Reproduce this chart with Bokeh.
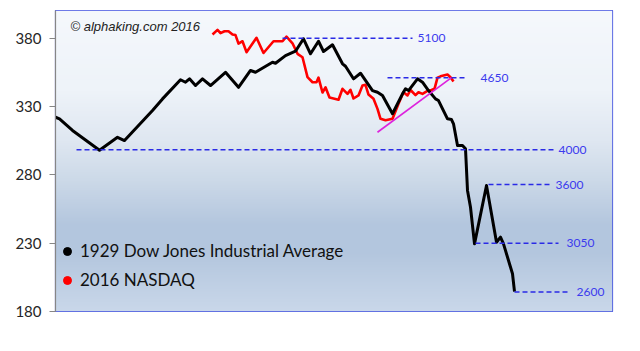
import numpy as np
from bokeh.plotting import figure
from bokeh.models import Range1d, FixedTicker, Label, Legend, LegendItem
from bokeh.core.properties import value
from bokeh.embed import file_html
from bokeh.resources import INLINE

# ---------------- data ----------------
dow_day = [0, 4, 17, 44, 62, 69, 97, 107, 125, 130,
           134, 140, 147, 155, 170, 183, 195, 200, 217, 220,
           230, 240, 248, 255, 263, 268, 277, 287, 290, 298,
           305, 317, 322, 327, 337, 347, 350, 353, 362, 367,
           373, 380, 383, 392, 396, 398, 402, 407, 410, 412,
           415, 419, 431, 441, 445, 448, 457, 459]
dow_val = [322.2, 321.0, 312.5, 298.0, 307.5, 305.1, 327.1, 335.6, 349.6, 347.8,
           350.3, 345.4, 350.3, 345.4, 355.1, 344.1, 356.4, 355.1, 362.4, 361.7,
           367.3, 370.5, 379.6, 368.6, 377.8, 370.3, 375.2, 361.3, 359.5, 350.3,
           354.4, 341.7, 340.5, 338.1, 324.7, 339.3, 343.0, 341.7, 350.3, 347.8,
           341.7, 335.6, 334.4, 321.0, 320.5, 317.4, 301.5, 301.5, 299.1, 268.6,
           256.3, 229.5, 272.2, 230.7, 234.4, 229.5, 207.6, 194.6]

nas_day = [157, 162, 165, 169, 173, 177, 180, 183, 187, 191,
           201, 208, 218, 227, 231, 237, 242, 247, 252, 257,
           261, 263, 267, 270, 274, 283, 287, 292, 295, 298,
           303, 307, 310, 313, 318, 322, 325, 330, 337, 343,
           348, 352, 355, 360, 363, 367, 372, 376, 379, 382,
           385, 392, 395, 398]
nas_val = [382.7, 386.1, 383.7, 385.1, 385.1, 382.7, 382.3, 376.1, 377.8, 369.8,
           380.3, 369.2, 377.8, 377.8, 381.1, 376.3, 368.6, 366.1, 351.5, 347.8,
           347.8, 351.2, 340.3, 344.1, 336.6, 335.0, 343.0, 339.3, 342.2, 335.9,
           338.1, 345.4, 345.9, 338.8, 335.7, 328.3, 321.0, 320.0, 321.0, 332.0,
           340.5, 338.1, 342.1, 338.4, 340.5, 339.3, 341.4, 342.1, 343.0, 351.2,
           352.1, 353.4, 351.5, 348.3]

level_names = ["5100", "4650", "4000", "3600", "3050", "2600"]
level_val = [380.0, 351.0, 298.3, 272.9, 230.0, 194.3]
level_start = [227, 332, 21, 433, 420, 459]
level_end = [357, 409, 498, 495, 503, 512]
level_label_x = [362, 425, 503, 500, 511, 521]

trend_day = [322, 396]
trend_val = [311.2, 351.2]

y_ticks = [180, 230, 280, 330, 380]

series_names = ["1929 Dow Jones Industrial Average", "2016 NASDAQ"]

# ---------------- figure ----------------
X0, X1 = 0, 557
Y0, Y1 = 180, 400.3

p = figure(width=640, height=351, x_range=Range1d(X0, X1), y_range=Range1d(Y0, Y1),
           output_backend="svg", toolbar_location=None, x_axis_location=None,
           min_border_left=55, min_border_right=28, min_border_top=10, min_border_bottom=40)
p.xgrid.visible = False
p.ygrid.visible = False
p.background_fill_color = "white"
p.border_fill_color = "white"
p.outline_line_color = "#3f4fe0"
p.outline_line_width = 1.2

# gradient background
H = 301
stops_px = [0, 80, 130, 170, 215, 240, 301]
cols = np.array([(245, 248, 252), (238, 243, 249), (223, 231, 241), (204, 217, 232),
                 (179, 198, 222), (179, 198, 222), (202, 216, 234)], dtype=float)
img = np.empty((H, 1), dtype=np.uint32)
view = img.view(dtype=np.uint8).reshape((H, 1, 4))
rows = np.arange(H)[::-1]  # image row 0 is bottom
for c in range(3):
    view[:, 0, c] = np.interp(rows, stops_px, cols[:, c]).astype(np.uint8)
view[:, 0, 3] = 255
p.image_rgba(image=[img], x=X0, y=Y0, dw=X1 - X0, dh=Y1 - Y0)

# axis
ax = p.yaxis[0]
ax.ticker = FixedTicker(ticks=y_ticks)
ax.axis_line_color = "#868686"
ax.axis_line_width = 1.2
ax.major_tick_line_color = "#868686"
ax.major_tick_out = 6
ax.major_tick_in = 0
ax.minor_tick_out = 0
ax.minor_tick_in = 0
ax.major_label_text_font = "Lato"
ax.major_label_text_font_size = "15px"
ax.major_label_text_color = "#262626"
ax.major_label_standoff = 8

# series
p.line(nas_day, nas_val, line_color="#ff0000", line_width=2.6, line_join="round")
p.line(dow_day, dow_val, line_color="black", line_width=3.0, line_join="round")
p.line(trend_day, trend_val, line_color="#dd22dd", line_width=1.6)

p.segment(x0=level_start, y0=level_val, x1=level_end, y1=level_val,
          line_color="#2a2ae6", line_width=1.5, line_dash="5 3")
p.text(x=level_label_x, y=level_val, text=level_names, text_font=value("Lato"),
       text_font_size="12px", text_color="#3a3aee", text_baseline="middle", text_align="left")

# legend (marker-only renderers with no visible points)
r1 = p.scatter(x=[np.nan], y=[np.nan], size=8, color="black")
r2 = p.scatter(x=[np.nan], y=[np.nan], size=8, color="#ff0000")
legend = Legend(items=[LegendItem(label=series_names[0], renderers=[r1]),
                       LegendItem(label=series_names[1], renderers=[r2])],
                location=(2, 21), background_fill_alpha=0, border_line_alpha=0,
                padding=0, margin=0, glyph_width=20, glyph_height=20, label_height=20,
                label_standoff=3, spacing=8, label_text_font="Lato",
                label_text_font_size="17px", label_text_color="#111111")
p.add_layout(legend)

p.add_layout(Label(x=15, y=285, x_units="screen", y_units="screen",
                   text="© alphaking.com 2016", text_font="Liberation Sans",
                   text_font_style="italic", text_font_size="13px", text_color="#222222",
                   text_baseline="middle"))

open("out.html", "w").write(file_html(p, INLINE))
